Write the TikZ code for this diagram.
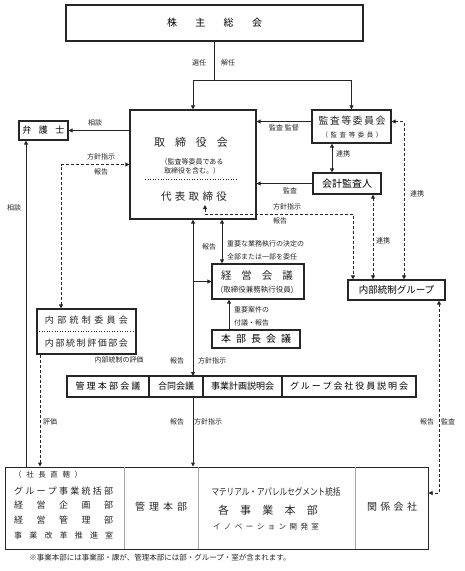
\documentclass[tikz,border=0pt]{standalone}
\usepackage{fontspec}
\setmainfont{Noto Sans CJK JP}
\usepackage{graphicx}
\usetikzlibrary{
    arrows.meta,
    positioning,
    calc
}
\definecolor{ink}{HTML}{262626}
\definecolor{divider}{HTML}{A6A6A6}
\tikzset{
    % Box style
    orgbox/.style={
        rectangle,
        draw=ink,
        line width=1.2pt,
        fill=white,
        inner sep=0pt,
        align=center
    },
    % Text styles
    boxtext/.style={
        font=\fontsize{#1}{#1}\selectfont,
        text=ink,
        inner sep=1pt
    },
    boxtext/.default=10,
    note/.style={
        font=\fontsize{7}{7}\selectfont,
        text=ink,
        inner sep=1pt
    },
    % Arrow styles
    flow/.style={
        -{Triangle[length=4pt, width=4pt]},
        line width=1pt,
        draw=ink
    },
    twoway/.style={
        {Triangle[length=4pt, width=4pt]}-{Triangle[length=4pt, width=4pt]},
        line width=1pt,
        draw=ink
    },
    dashflow/.style={
        flow,
        dash pattern=on 3pt off 2pt
    },
    dashtwoway/.style={
        twoway,
        dash pattern=on 3pt off 2pt
    }
}

\begin{document}
\begin{tikzpicture}[
        x=1pt, y=-1pt,
        plain line/.style={line width=1pt, draw=ink},
        dot line/.style={line width=0.6pt, draw=ink, dotted},
        divider line/.style={line width=0.6pt, draw=divider}
    ]
        \useasboundingbox (0,0) rectangle (464,571);

        % Shareholders
        \node[orgbox, minimum width=297pt, minimum height=36pt] (kabu) at (214.5,23)
            {\fontsize{10}{10}\selectfont\makebox[95pt][s]{株\hfill 主\hfill 総\hfill 会}};

        % Board
        \node[orgbox, minimum width=126pt, minimum height=109pt] (board) at (193,164.5) {};
        \node[boxtext=11] (boardttl) at (191,142) {\makebox[74pt][s]{取\hfill 締\hfill 役\hfill 会}};
        \node[boxtext, font=\fontsize{7}{9}\selectfont, align=center] (boardsub) at (192,166.5)
            {（監査等委員である\\取締役を含む。）};
        \draw[dot line] (145,179) -- (238,179);
        \node[boxtext=10.5] (daihyo) at (194,197) {\makebox[66pt][s]{代\hfill 表\hfill 取\hfill 締\hfill 役}};
        \coordinate (pres) at (205,205);

        % Lawyer
        \node[orgbox, minimum width=49pt, minimum height=19pt] (bengo) at (43.5,130.5)
            {\fontsize{9}{9}\selectfont\makebox[42pt][s]{弁\hfill 護\hfill 士}};

        % Audit
        \node[orgbox, minimum width=79pt, minimum height=33pt] (kansa) at (351.5,126.5) {};
        \node[boxtext] (kansattl) at (352,121) {\makebox[67pt][s]{監\hfill 査\hfill 等\hfill 委\hfill 員\hfill 会}};
        \node[boxtext=6.5] (kansasub) at (352,135)
            {\makebox[61pt][s]{（\hfill 監\hfill 査\hfill 等\hfill 委\hfill 員\hfill ）}};
        \node[orgbox, minimum width=68pt, minimum height=21pt] (kaikei) at (347,183.5)
            {\fontsize{10}{10}\selectfont 会計監査人};
        \node[orgbox, minimum width=97pt, minimum height=20pt] (group) at (396.5,290)
            {\fontsize{9.5}{9.5}\selectfont 内部統制グループ};

        % Internal control committee
        \node[orgbox, minimum width=99pt, minimum height=45pt] (iinkai) at (86.5,331.5) {};
        \node[boxtext=9] (iinkai1) at (86.5,320) {\makebox[83pt][s]{内\hfill 部\hfill 統\hfill 制\hfill 委\hfill 員\hfill 会}};
        \draw[dot line] (39,331) -- (134,331);
        \node[boxtext=9] (iinkai2) at (86.5,343) {\makebox[83pt][s]{内\hfill 部\hfill 統\hfill 制\hfill 評\hfill 価\hfill 部\hfill 会}};

        % Management meetings
        \node[orgbox, minimum width=92pt, minimum height=35pt] (keiei) at (258,281.5) {};
        \node[boxtext=10.5] (keieittl) at (257,276) {\makebox[72pt][s]{経\hfill 営\hfill 会\hfill 議}};
        \node[boxtext=7.5] (keieisub) at (257,290) {(取締役兼務執行役員)};
        \node[orgbox, minimum width=88pt, minimum height=18pt] (honbu) at (256,339)
            {\fontsize{10}{10}\selectfont\makebox[70pt][s]{本\hfill 部\hfill 長\hfill 会\hfill 議}};

        % Meeting row
        \node[orgbox, outer sep=0pt, minimum width=82pt, minimum height=21pt] (mtg1) at (108,386.5)
            {\fontsize{9}{9}\selectfont\makebox[65pt][s]{管\hfill 理\hfill 本\hfill 部\hfill 会\hfill 議}};
        \node[orgbox, outer sep=0pt, minimum width=54pt, minimum height=21pt, right=0pt of mtg1] (goudou)
            {\fontsize{9}{9}\selectfont 合同会議};
        \node[orgbox, outer sep=0pt, minimum width=79pt, minimum height=21pt, right=0pt of goudou] (plan)
            {\fontsize{9}{9}\selectfont 事業計画説明会};
        \node[orgbox, outer sep=0pt, minimum width=134pt, minimum height=21pt, right=0pt of plan] (grpmtg)
            {\fontsize{9}{9}\selectfont\makebox[118pt][s]{グ\hfill ル\hfill ー\hfill プ\hfill 会\hfill 社\hfill 役\hfill 員\hfill 説\hfill 明\hfill 会}};

        % Divisions
        \node[orgbox, line width=1pt, minimum width=423pt, minimum height=82pt] (bottom) at (216.5,508) {};
        \draw[divider line] (124,467) -- (124,549);
        \draw[divider line] (198,467) -- (198,549);
        \draw[divider line] (355,467) -- (355,549);
        \node[boxtext=7.5, anchor=west] (direct) at (13,475) {\makebox[68pt][s]{（\hfill 社\hfill 長\hfill 直\hfill 轄\hfill ）}};
        \node[boxtext=9, anchor=west] (div1) at (13,491) {\makebox[99pt][s]{グ\hfill ル\hfill ー\hfill プ\hfill 事\hfill 業\hfill 統\hfill 括\hfill 部}};
        \node[boxtext=9, anchor=west] (div2) at (13,505) {\makebox[99pt][s]{経\hfill 営\hfill 企\hfill 画\hfill 部}};
        \node[boxtext=9, anchor=west] (div3) at (13,520) {\makebox[99pt][s]{経\hfill 営\hfill 管\hfill 理\hfill 部}};
        \node[boxtext=8, anchor=west] (div4) at (13,535) {\makebox[99pt][s]{事\hfill 業\hfill 改\hfill 革\hfill 推\hfill 進\hfill 室}};
        \node[boxtext] (admin) at (161,507) {\makebox[52pt][s]{管\hfill 理\hfill 本\hfill 部}};
        \node[boxtext=9.5] (segment) at (276,492) {\scalebox{0.8}[1]{マテリアル・アパレルセグメント統括}};
        \node[boxtext=11] (business) at (268,510) {\makebox[100pt][s]{各\hfill 事\hfill 業\hfill 本\hfill 部}};
        \node[boxtext=7.5] (innov) at (266,527) {\makebox[106pt][s]{イ\hfill ノ\hfill ベ\hfill ー\hfill シ\hfill ョ\hfill ン\hfill 開\hfill 発\hfill 室}};
        \node[boxtext] (affil) at (392,507) {\makebox[50pt][s]{関\hfill 係\hfill 会\hfill 社}};

        % Footnote
        \node[boxtext=7.5] (foot) at (160,558) {※事業本部には事業部・課が、管理本部には部・グループ・室が含まれます。};

        % Connections
        \draw[plain line] (kabu.south) -- ++(0,39) coordinate (split);
        \draw[flow] (split) -| (board.north);
        \draw[flow] (split) -| (kansa.north);
        \node[note] at (199,63) {選任};
        \node[note] at (228,63) {解任};

        \draw[flow] (board.west |- bengo) -- (bengo.east);
        \node[note] at (95,123) {相談};

        \draw[flow] ([yshift=5pt]kansa.west) -- ([yshift=5pt]kansa.west -| board.east);
        \node[note] at (284,128) {監査 監督};
        \draw[flow] (kaikei.west) -- (kaikei.west -| board.east);
        \node[note] at (290,191) {監査};
        \coordinate (k0) at ([xshift=-15pt]kaikei.north);
        \draw[twoway] (k0) -- (k0 |- kansa.south);
        \node[note] at (343,154) {連携};

        \draw[dashtwoway] ([xshift=7.5pt]group.north) |- ([yshift=5pt]kansa.east);
        \node[note] at (417,194) {連携};
        \coordinate (k1) at ([xshift=26pt]kaikei.south);
        \draw[dashtwoway] (k1) -- (k1 |- group.north);
        \node[note] at (383,241) {連携};
        \draw[dashtwoway] (pres) -- ++(0,9) -| ([xshift=-43.5pt]group.north);
        \node[note] at (287,207) {方針指示};
        \node[note] at (280,221) {報告};

        \draw[dashtwoway] ([xshift=-25.5pt]iinkai.north) |- (board.west);
        \node[note] at (101,157) {方針指示};
        \node[note] at (101,172) {報告};

        \coordinate (c1) at ([xshift=-17.5pt]bengo.south);
        \draw[flow] (c1 |- bottom.north) -- (c1);
        \node[note] at (14,208) {相談};
        \coordinate (c2) at ([xshift=-46.5pt]iinkai.south);
        \draw[dashflow] (c2) -- (c2 |- bottom.north);
        \node[note] at (50,422) {評価};
        \node[note] at (119,360) {内部統制の評価};

        \draw[twoway] (board.south |- goudou.north) -- (board.south);
        \draw[flow] (board.south |- keiei.west) -- (keiei.west);
        \node[note] at (177,361) {報告};
        \node[note] at (212,361) {方針指示};
        \coordinate (k2) at ([xshift=-36pt]keiei.north);
        \draw[twoway] (k2) -- (k2 |- board.south);
        \node[note] at (209,247) {報告};
        \node[note, anchor=west] at (226,244) {重要な業務執行の決定の};
        \node[note, anchor=west] at (226,257) {全部または一部を委任};
        \coordinate (k3) at ([xshift=-27pt]honbu.north);
        \draw[flow] (k3) -- (k3 |- keiei.south);
        \node[note, anchor=west] at (233,310) {重要案件の};
        \node[note, anchor=west] at (233,323) {付議・報告};

        \draw[flow] (board.south |- goudou.south) -- (board.south |- bottom.north);
        \node[note] at (177,422) {報告};
        \node[note] at (208,422) {方針指示};

        \coordinate (g1) at ([xshift=42.5pt]group.south);
        \coordinate (b1) at ([yshift=15pt]bottom.east);
        \draw[dashtwoway] (g1) |- (b1);
        \node[note] at (427,422) {報告};
        \node[note] at (448,422) {監査};

    \end{tikzpicture}
\end{document}
